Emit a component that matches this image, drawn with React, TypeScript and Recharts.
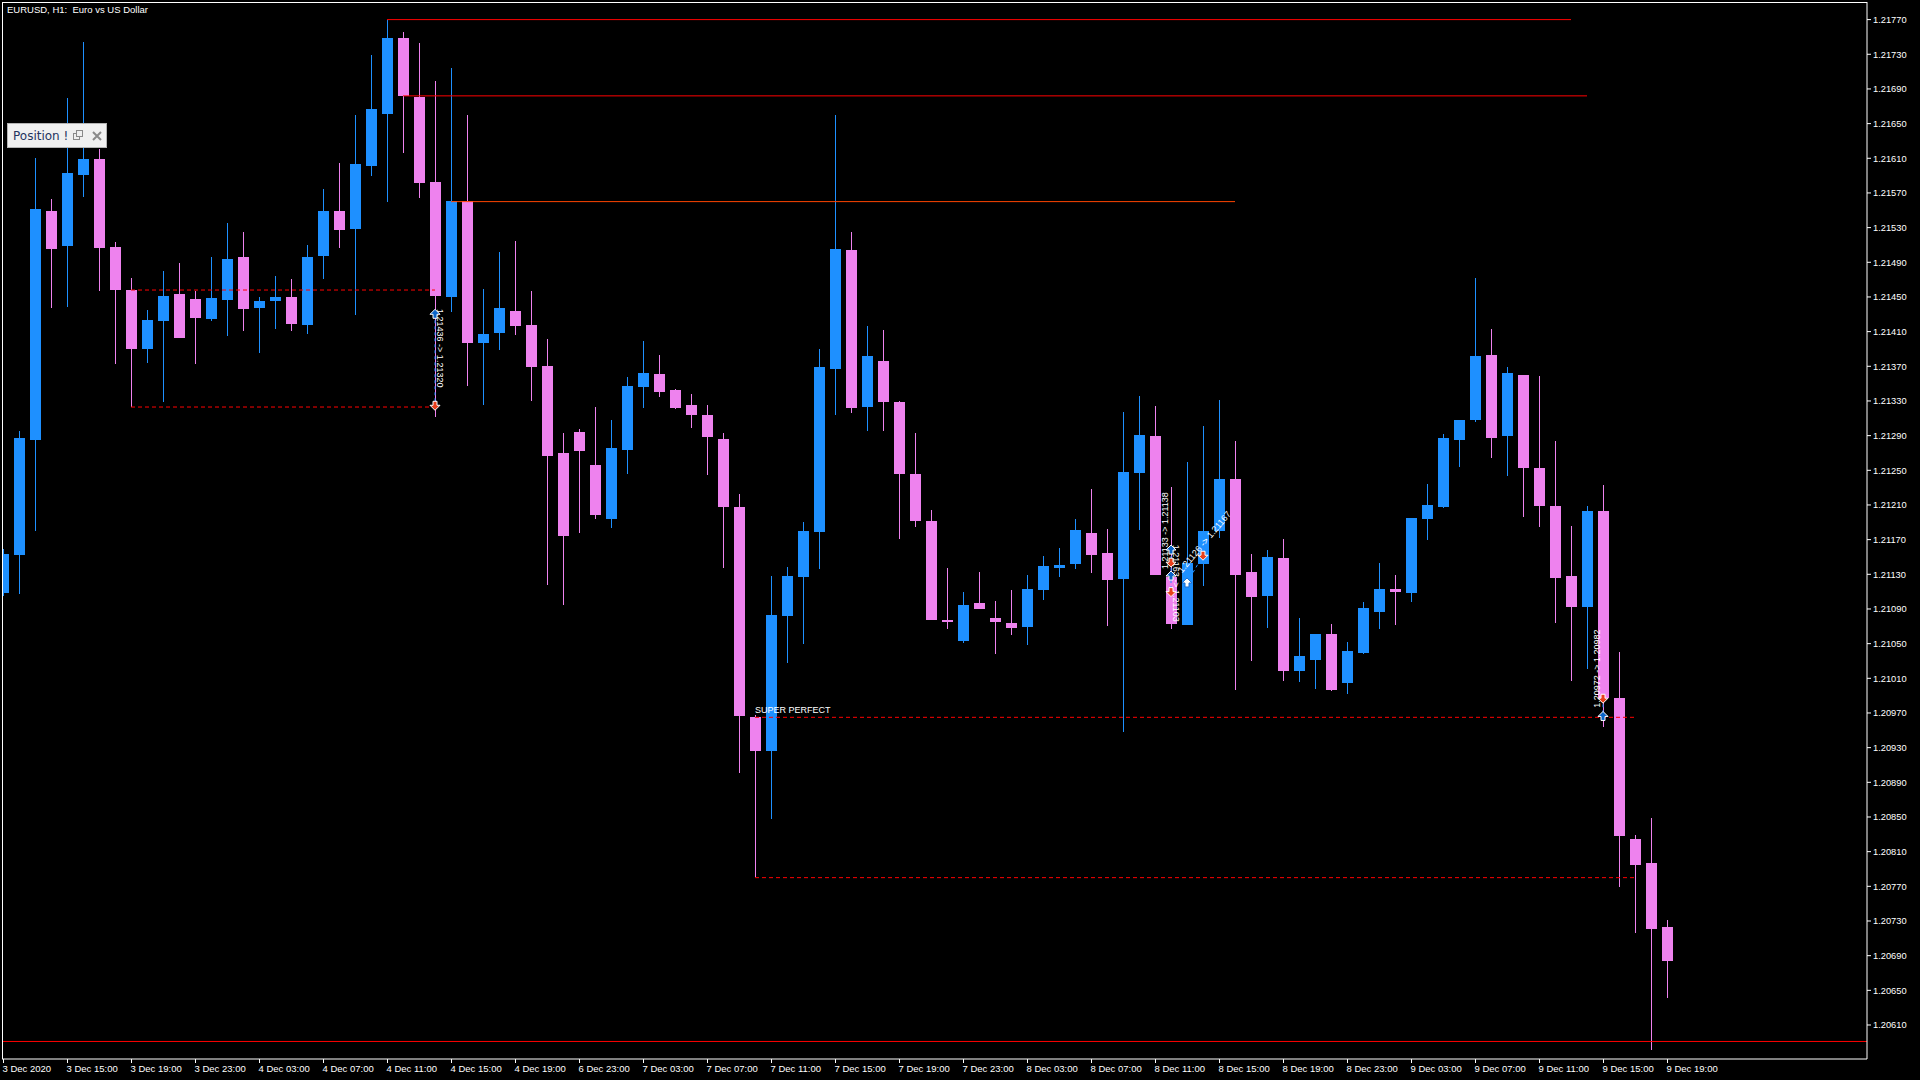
import React from "react";
import {
  ComposedChart,
  Bar,
  XAxis,
  YAxis,
  ReferenceLine,
  ReferenceDot,
} from "recharts";

// EURUSD H1 candles, 3 Dec 11:00 .. 9 Dec 19:00
const opens = [
  1.21108, 1.21152, 1.21285, 1.21549, 1.21509, 1.21591, 1.21609, 1.21508, 1.21458, 1.2139,
  1.21422, 1.21453, 1.21448, 1.21425, 1.21447, 1.21496, 1.21437, 1.21445, 1.2145, 1.21418,
  1.21497, 1.21549, 1.21528, 1.21601, 1.21661, 1.21749, 1.21681, 1.21583, 1.2145, 1.21561,
  1.21397, 1.21408, 1.21434, 1.21418, 1.2137, 1.2127, 1.21294, 1.21256, 1.21194, 1.21273,
  1.21346, 1.21361, 1.21343, 1.21325, 1.21314, 1.21286, 1.21208, 1.20965, 1.20926, 1.21082,
  1.21127, 1.21179, 1.21367, 1.21504, 1.21323, 1.21376, 1.21329, 1.21246, 1.21192, 1.21077,
  1.21053, 1.21097, 1.2108, 1.21074, 1.21069, 1.21112, 1.21137, 1.21142, 1.21178, 1.21155,
  1.21125, 1.21247, 1.2129, 1.21127, 1.21072, 1.21142, 1.2118, 1.2124, 1.21133, 1.21105,
  1.21149, 1.21018, 1.21031, 1.21061, 1.21005, 1.21039, 1.21087, 1.21113, 1.21108, 1.21194,
  1.21208, 1.21285, 1.21308, 1.21383, 1.2129, 1.2136, 1.21253, 1.21209, 1.21128, 1.21092,
  1.21203, 1.20987, 1.20825, 1.20797, 1.20723,
];
const highs = [
  1.21159, 1.21295, 1.2161, 1.21563, 1.2168, 1.21744, 1.21621, 1.21513, 1.21472, 1.21435,
  1.2148, 1.21489, 1.21457, 1.21496, 1.21535, 1.21525, 1.2145, 1.21474, 1.21471, 1.2151,
  1.21575, 1.21605, 1.2166, 1.21729, 1.2177, 1.21756, 1.21743, 1.21699, 1.21714, 1.2166,
  1.21459, 1.21502, 1.21515, 1.21457, 1.21402, 1.21293, 1.21298, 1.21323, 1.21308, 1.21358,
  1.21399, 1.21383, 1.21344, 1.21338, 1.21325, 1.21293, 1.21223, 1.20968, 1.21128, 1.21138,
  1.2119, 1.2139, 1.2166, 1.21525, 1.21417, 1.21412, 1.2133, 1.21293, 1.21204, 1.21137,
  1.2111, 1.21133, 1.21099, 1.21112, 1.21129, 1.21151, 1.2116, 1.21194, 1.21228, 1.21182,
  1.21317, 1.21336, 1.21324, 1.21231, 1.2126, 1.21301, 1.21331, 1.21284, 1.21153, 1.21158,
  1.21171, 1.2108, 1.21061, 1.21073, 1.21052, 1.21098, 1.21143, 1.21129, 1.21195, 1.21234,
  1.21292, 1.21308, 1.21472, 1.21413, 1.21369, 1.2136, 1.21359, 1.21284, 1.21186, 1.21209,
  1.21233, 1.2104, 1.20829, 1.20849, 1.20731,
];
const lows = [
  1.21105, 1.21107, 1.2118, 1.21437, 1.21438, 1.21565, 1.21457, 1.21373, 1.21323, 1.21374,
  1.21329, 1.21403, 1.21373, 1.21422, 1.21405, 1.21411, 1.21385, 1.21413, 1.21411, 1.21407,
  1.21471, 1.21507, 1.21429, 1.2159, 1.2156, 1.21616, 1.21564, 1.21312, 1.21433, 1.21347,
  1.21325, 1.21389, 1.21406, 1.2133, 1.21118, 1.21095, 1.21178, 1.21194, 1.21183, 1.21246,
  1.21322, 1.21335, 1.21321, 1.21299, 1.21245, 1.21137, 1.20901, 1.20781, 1.20848, 1.21028,
  1.2105, 1.21136, 1.21314, 1.21316, 1.21295, 1.21295, 1.21171, 1.21185, 1.21077, 1.21067,
  1.21051, 1.2109, 1.21038, 1.2106, 1.21048, 1.211, 1.21127, 1.21136, 1.21132, 1.2107,
  1.20948, 1.21181, 1.21129, 1.21067, 1.21072, 1.21117, 1.21172, 1.20997, 1.2103, 1.21068,
  1.21007, 1.21006, 1.20998, 1.20995, 1.20992, 1.21038, 1.21067, 1.21072, 1.21098, 1.2117,
  1.21207, 1.21254, 1.21306, 1.21264, 1.21243, 1.21196, 1.21185, 1.21074, 1.21007, 1.21021,
  1.20954, 1.20769, 1.20716, 1.20581, 1.20641,
];
const closes = [
  1.21153, 1.21287, 1.21552, 1.21505, 1.21593, 1.21609, 1.21507, 1.21458, 1.2139, 1.21423,
  1.21451, 1.21403, 1.21426, 1.21449, 1.21494, 1.21436, 1.21445, 1.2145, 1.21419, 1.21496,
  1.21549, 1.21527, 1.21603, 1.21667, 1.21749, 1.21682, 1.21582, 1.21451, 1.21561, 1.21397,
  1.21407, 1.21437, 1.21417, 1.21369, 1.21267, 1.21174, 1.21272, 1.21198, 1.21276, 1.21347,
  1.21362, 1.2134, 1.21322, 1.21314, 1.21288, 1.21208, 1.20967, 1.20926, 1.21083, 1.21128,
  1.2118, 1.21369, 1.21505, 1.21322, 1.21382, 1.21329, 1.21246, 1.21192, 1.21077, 1.21075,
  1.21095, 1.2109, 1.21075, 1.21068, 1.21113, 1.2114, 1.21141, 1.21181, 1.21152, 1.21123,
  1.21248, 1.21291, 1.21129, 1.21073, 1.21143, 1.2118, 1.2124, 1.21129, 1.21104, 1.2115,
  1.21018, 1.21036, 1.21061, 1.20997, 1.21042, 1.21091, 1.21113, 1.2111, 1.21195, 1.2121,
  1.21287, 1.21308, 1.21382, 1.21287, 1.21362, 1.21253, 1.21209, 1.21126, 1.21092, 1.21203,
  1.20987, 1.20828, 1.20795, 1.20721, 1.20684,
];

// one label every 4 bars
const timeLabels = [
  "3 Dec 2020", "3 Dec 15:00", "3 Dec 19:00", "3 Dec 23:00", "4 Dec 03:00", "4 Dec 07:00",
  "4 Dec 11:00", "4 Dec 15:00", "4 Dec 19:00", "6 Dec 23:00", "7 Dec 03:00", "7 Dec 07:00",
  "7 Dec 11:00", "7 Dec 15:00", "7 Dec 19:00", "7 Dec 23:00", "8 Dec 03:00", "8 Dec 07:00",
  "8 Dec 11:00", "8 Dec 15:00", "8 Dec 19:00", "8 Dec 23:00", "9 Dec 03:00", "9 Dec 07:00",
  "9 Dec 11:00", "9 Dec 15:00", "9 Dec 19:00",
];

const priceTicks = [
  1.2061, 1.2065, 1.2069, 1.2073, 1.2077, 1.2081, 1.2085, 1.2089, 1.2093, 1.2097,
  1.2101, 1.2105, 1.2109, 1.2113, 1.2117, 1.2121, 1.2125, 1.2129, 1.2133, 1.2137,
  1.2141, 1.2145, 1.2149, 1.2153, 1.2157, 1.2161, 1.2165, 1.2169, 1.2173, 1.2177,
];

// horizontal levels: start bar, end bar, price
const levels = [
  { from: 24, to: 98, price: 1.2177, color: "#ff0000", dash: "" },
  { from: 25, to: 99, price: 1.21682, color: "#ff0000", dash: "" },
  { from: 28, to: 77, price: 1.2156, color: "#ff4500", dash: "" },
  { from: 8, to: 27, price: 1.21458, color: "#ff0000", dash: "4 3" },
  { from: 8, to: 27, price: 1.21323, color: "#ff0000", dash: "4 3" },
  { from: 47, to: 102, price: 1.20965, color: "#ff0000", dash: "4 3" },
  { from: 47, to: 102, price: 1.2078, color: "#ff0000", dash: "4 3" },
];
const bottomLevel = 1.20591;

const tradeMarks = [
  { bar: 27, price: 1.2143, kind: "buy" },
  { bar: 27, price: 1.21325, kind: "sell" },
  { bar: 73, price: 1.21158, kind: "buy" },
  { bar: 73, price: 1.21144, kind: "sell" },
  { bar: 73, price: 1.21128, kind: "buy" },
  { bar: 73, price: 1.2111, kind: "sell" },
  { bar: 74, price: 1.2112, kind: "open" },
  { bar: 75, price: 1.21152, kind: "sell" },
  { bar: 100, price: 1.20987, kind: "sell" },
  { bar: 100, price: 1.20966, kind: "buy" },
];
const tradeLinks = [
  { a: 27, pa: 1.2143, b: 27, pb: 1.21325 },
  { a: 73, pa: 1.21158, b: 73, pb: 1.2111 },
  { a: 74, pa: 1.2112, b: 75, pb: 1.21152 },
  { a: 100, pa: 1.20987, b: 100, pb: 1.20966 },
];
const tradeTexts = [
  { bar: 27, price: 1.21436, text: "1.21436 -> 1.21320", angle: 90, dx: 2 },
  { bar: 73, price: 1.21136, text: "1.21133 -> 1.21138", angle: -90, dx: -3 },
  { bar: 73, price: 1.21164, text: "1.21163 -> 1.21103", angle: 90, dx: 2 },
  { bar: 74, price: 1.21131, text: "1.21126 -> 1.21167", angle: -50, dx: -5 },
  { bar: 100, price: 1.20976, text: "1.20972 -> 1.20982", angle: -90, dx: -3 },
];

const Y_MIN = 1.2057077;
const Y_MAX = 1.2179031;
const EMPTY_BARS = 12;
const UP = "#1e90ff";
const DOWN = "#ee82ee";
const FONT = '"Liberation Sans", Arial, sans-serif';

const rows = [
  ...opens.map((o, i) => ({ i, open: o, high: highs[i], low: lows[i], close: closes[i] })),
  ...Array.from({ length: EMPTY_BARS }, (_, k) => ({ i: opens.length + k })),
];

const Candle = (props: any) => {
  const { x, y, width, height, payload } = props;
  if (!payload || payload.high == null) return <g />;
  const { open, high, low, close } = payload;
  const color = close >= open ? UP : DOWN;
  const k = high > low ? height / (high - low) : 0;
  const cx = Math.floor(x + width / 2);
  const top = Math.round(y);
  const bot = Math.round(y + height);
  const bTop = Math.round(y + (high - Math.max(open, close)) * k);
  const bBot = Math.round(y + (high - Math.min(open, close)) * k);
  return (
    <g>
      <rect x={cx} y={top} width={1} height={Math.max(1, bot - top)} fill={color} />
      <rect x={cx - 5} y={bTop} width={11} height={Math.max(1, bBot - bTop)} fill={color} />
    </g>
  );
};

const TimeTick = (props: any) => {
  const { x, y, payload } = props;
  const i = Number(payload.value);
  if (i % 4 !== 0 || i >= opens.length) return <g />;
  const px = Math.floor(x) + 0.5;
  return (
    <g>
      <line x1={px} x2={px} y1={y - 4} y2={y} stroke="#fff" />
      <text x={px - 1} y={y + 9} fill="#fff" fontSize={9.5} fontFamily={FONT}>
        {timeLabels[i / 4]}
      </text>
    </g>
  );
};

const arrowShape = (kind: string) => (p: any) => {
  const { cx, cy } = p;
  const up = kind !== "sell";
  const fill = kind === "sell" ? "#e8401c" : kind === "open" ? "#ffffff" : "#0a64c8";
  const stroke = kind === "open" ? "#1e6fd0" : "#ffffff";
  const s = up ? 1 : -1;
  const d = `M${cx} ${cy - 5 * s} L${cx + 5} ${cy} L${cx + 2} ${cy} L${cx + 2} ${cy + 4 * s} L${cx - 2} ${cy + 4 * s} L${cx - 2} ${cy} L${cx - 5} ${cy} Z`;
  return <path d={d} fill={fill} stroke={stroke} strokeWidth={1} />;
};

const noteShape = (text: string, angle: number, dx: number) => (p: any) => {
  const tx = p.cx + dx;
  const ty = p.cy;
  return (
    <text
      x={tx}
      y={ty}
      transform={`rotate(${angle} ${tx} ${ty})`}
      fill="#fff"
      fontSize={9}
      fontFamily={FONT}
    >
      {text}
    </text>
  );
};

const superShape = (p: any) => (
  <text x={p.cx} y={p.cy - 4} fill="#fff" fontSize={9} fontFamily={FONT}>
    SUPER PERFECT
  </text>
);

export default function App() {
  return (
    <div
      style={{
        position: "absolute",
        left: 0,
        top: 0,
        width: 1920,
        height: 1080,
        background: "#000",
        overflow: "hidden",
      }}
    >
      <div style={{ position: "absolute", left: -5, top: 0 }}>
        <ComposedChart
          width={1925}
          height={1080}
          data={rows}
          margin={{ top: 2, right: 0, bottom: 0, left: 0 }}
        >
          <XAxis
            dataKey="i"
            type="category"
            interval={3}
            height={21}
            tickSize={4}
            tickMargin={0}
            tickLine={false}
            axisLine={{ stroke: "#fff" }}
            tick={(p: any) => <TimeTick {...p} />}
          />
          <YAxis
            orientation="right"
            type="number"
            width={53}
            domain={[Y_MIN, Y_MAX]}
            allowDataOverflow
            ticks={priceTicks}
            interval={0}
            tickSize={4}
            tickMargin={2}
            tickFormatter={(v: number) => v.toFixed(5)}
            tick={{ fill: "#fff", fontSize: 9.3, fontFamily: FONT }}
            tickLine={{ stroke: "#fff" }}
            axisLine={{ stroke: "#fff" }}
          />
          <Bar
            dataKey={(d: any) => (d.high == null ? null : [d.low, d.high])}
            barSize={11}
            shape={Candle}
            isAnimationActive={false}
          />
          {levels.map((lv, k) => (
            <ReferenceLine
              key={"lv" + k}
              segment={[
                { x: lv.from, y: lv.price },
                { x: lv.to, y: lv.price },
              ]}
              stroke={lv.color}
              strokeDasharray={lv.dash || undefined}
              ifOverflow="visible"
            />
          ))}
          <ReferenceLine y={bottomLevel} stroke="#ff0000" />
          {tradeLinks.map((t, k) => (
            <ReferenceLine
              key={"tl" + k}
              segment={[
                { x: t.a, y: t.pa },
                { x: t.b, y: t.pb },
              ]}
              stroke="#1e90ff"
              strokeDasharray="3 3"
              ifOverflow="visible"
            />
          ))}
          {tradeTexts.map((t, k) => (
            <ReferenceDot
              key={"tt" + k}
              x={t.bar}
              y={t.price}
              ifOverflow="visible"
              shape={noteShape(t.text, t.angle, t.dx)}
            />
          ))}
          {tradeMarks.map((m, k) => (
            <ReferenceDot
              key={"tm" + k}
              x={m.bar}
              y={m.price}
              ifOverflow="visible"
              shape={arrowShape(m.kind)}
            />
          ))}
          <ReferenceDot x={47} y={1.20965} ifOverflow="visible" shape={superShape} />
        </ComposedChart>
      </div>

      {/* chart frame, left and top edges */}
      <div style={{ position: "absolute", left: 0, top: 0, width: 2, height: 1080, background: "#000" }} />
      <div style={{ position: "absolute", left: 2, top: 2, width: 1, height: 1057, background: "#fff" }} />
      <div style={{ position: "absolute", left: 2, top: 2, width: 1865, height: 1, background: "#fff" }} />

      <div
        style={{
          position: "absolute",
          left: 7,
          top: 5,
          color: "#fff",
          fontFamily: FONT,
          fontSize: 9.5,
          lineHeight: "10px",
          whiteSpace: "pre",
        }}
      >
        {"EURUSD, H1:  Euro vs US Dollar"}
      </div>

      <div
        style={{
          position: "absolute",
          left: 7,
          top: 123,
          width: 98,
          height: 23,
          background: "#f0f0f0",
          border: "1px solid #b4b4b4",
          display: "flex",
          alignItems: "center",
          fontFamily: '"DejaVu Sans", sans-serif',
          fontSize: 12,
          color: "#24345f",
        }}
      >
        <span style={{ marginLeft: 5, width: 56, whiteSpace: "nowrap" }}>Position !</span>
        <svg width={36} height={14} style={{ marginLeft: 1 }}>
          <rect x={3.5} y={4.5} width={6} height={6} fill="none" stroke="#8a8a8a" />
          <rect x={6.5} y={1.5} width={6} height={6} fill="#f0f0f0" stroke="#8a8a8a" />
          <path d="M23 3 L31 11 M31 3 L23 11" stroke="#8a8a8a" strokeWidth={2} />
        </svg>
      </div>
    </div>
  );
}
